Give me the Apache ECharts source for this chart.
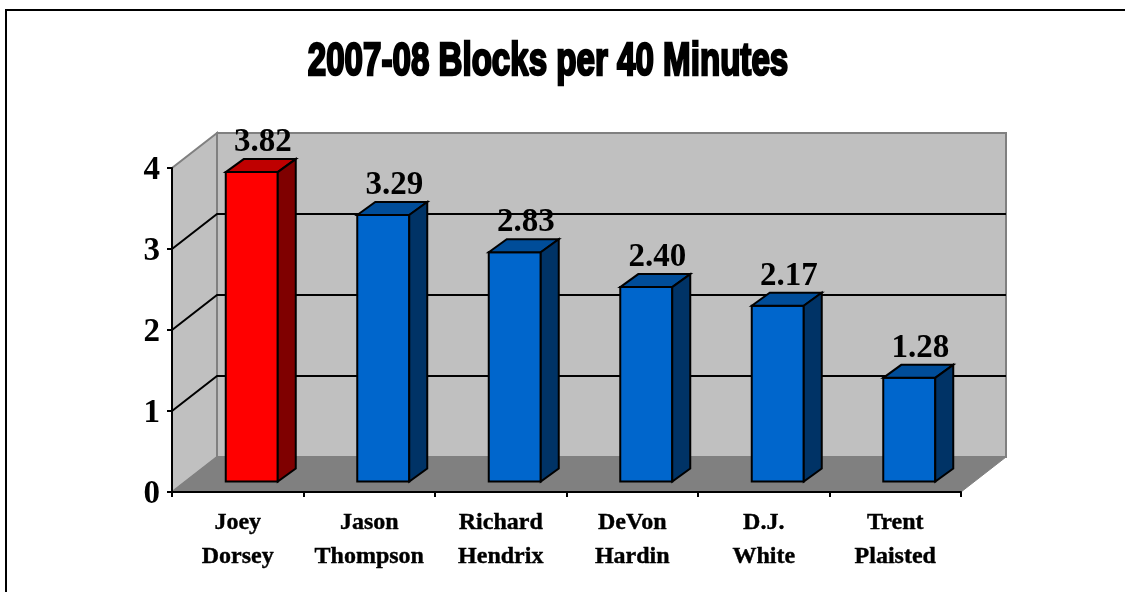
<!DOCTYPE html>
<html>
<head>
<meta charset="utf-8">
<style>html,body{margin:0;padding:0;background:#fff}#main{width:1125px;height:592px}</style>
<script src="https://cdn.jsdelivr.net/npm/echarts@6/dist/echarts.min.js"></script>
</head>
<body>
<div id="main"></div>
<script>
var titleText = '2007-08 Blocks per 40 Minutes';
var categories = ['Joey\nDorsey', 'Jason\nThompson', 'Richard\nHendrix', 'DeVon\nHardin', 'D.J.\nWhite', 'Trent\nPlaisted'];
var values = [3.82, 3.29, 2.83, 2.40, 2.17, 1.28];
var gridValues = [1, 2, 3];
var highlightIndex = 0;

var serif = '"Liberation Serif", "Times New Roman", serif';
var wallDepth = [45, -35];
var barShift = [14, -10.5];
var barDepth = [18, -13];
var barWidth = 52;

var myChart = echarts.init(document.getElementById('main'), null, { renderer: 'canvas' });

function poly(points, fill, stroke, lineWidth) {
    return {
        type: 'polygon',
        shape: { points: points },
        style: { fill: fill, stroke: stroke || null, lineWidth: lineWidth || 0, lineJoin: 'miter' }
    };
}

function renderWalls(params) {
    var c = params.coordSys;
    var dx = wallDepth[0], dy = wallDepth[1];
    var l = c.x, r = c.x + c.width, t = c.y, b = c.y + c.height;
    return {
        type: 'group',
        children: [
            poly([[l, b], [l, t], [l + dx, t + dy], [l + dx, b + dy]], '#c0c0c0', '#808080', 2),
            poly([[l + dx, t + dy], [r + dx, t + dy], [r + dx, b + dy], [l + dx, b + dy]], '#c0c0c0', '#808080', 2),
            poly([[l, b], [l + dx, b + dy], [r + dx, b + dy], [r, b]], '#808080', '#808080', 1)
        ]
    };
}

function renderGrid(params, api) {
    var c = params.coordSys;
    var y = api.coord([0, api.value(1)])[1];
    var l = c.x, r = c.x + c.width;
    return {
        type: 'polyline',
        shape: { points: [[l, y], [l + wallDepth[0], y + wallDepth[1]], [r + wallDepth[0], y + wallDepth[1]]] },
        style: { fill: null, stroke: '#000', lineWidth: 2 }
    };
}

function renderBar(params, api) {
    var top = api.coord([api.value(0), api.value(1)]);
    var base = api.coord([api.value(0), 0]);
    var x0 = top[0] - barWidth / 2 + barShift[0];
    var x1 = x0 + barWidth;
    var yt = top[1] + barShift[1];
    var yb = base[1] + barShift[1];
    var dx = barDepth[0], dy = barDepth[1];
    var hot = params.dataIndex === highlightIndex;
    return {
        type: 'group',
        children: [
            poly([[x0, yb], [x0, yt], [x1, yt], [x1, yb]], hot ? '#ff0000' : '#0066cc', '#000', 2),
            poly([[x0, yt], [x0 + dx, yt + dy], [x1 + dx, yt + dy], [x1, yt]], hot ? '#bf0000' : '#004d99', '#000', 2),
            poly([[x1, yt], [x1 + dx, yt + dy], [x1 + dx, yb + dy], [x1, yb]], hot ? '#7f0000' : '#003366', '#000', 2),
            {
                type: 'text',
                style: {
                    x: x0 + barWidth / 2 + 11,
                    y: yt - 13,
                    text: api.value(1).toFixed(2),
                    fill: '#000',
                    font: 'bold 33px ' + serif,
                    textAlign: 'center',
                    textVerticalAlign: 'bottom'
                }
            }
        ]
    };
}

myChart.setOption({
    animation: false,
    backgroundColor: '#fff',
    graphic: [{
        type: 'polyline',
        shape: { points: [[6, 592], [6, 10], [1125, 10]] },
        style: { fill: null, stroke: '#000', lineWidth: 2 }
    }, {
        // no Impact here, so squeeze the bold sans to the same width
        type: 'text',
        x: 548,
        y: 62,
        scaleX: 0.72,
        scaleY: 1,
        style: {
            text: titleText,
            font: 'bold 46px "Liberation Sans", sans-serif',
            textAlign: 'center',
            textVerticalAlign: 'middle',
            fill: '#000',
            stroke: '#000',
            lineWidth: 2.5
        }
    }],
    grid: { left: 172, right: 164, top: 168, bottom: 100 },
    xAxis: {
        type: 'category',
        data: categories,
        z: 3,
        axisLine: { lineStyle: { color: '#000', width: 2 } },
        axisTick: { show: true, alignWithLabel: false, length: 5, lineStyle: { color: '#000', width: 2 } },
        axisLabel: { color: '#000', fontFamily: serif, fontWeight: 'bold', fontSize: 24, lineHeight: 34, margin: 14, interval: 0, textBorderColor: '#000', textBorderWidth: 0.4 }
    },
    yAxis: {
        type: 'value',
        min: 0,
        max: 4,
        interval: 1,
        z: 3,
        splitLine: { show: false },
        axisLine: { show: true, lineStyle: { color: '#000', width: 2 } },
        axisTick: { show: true, length: 5, lineStyle: { color: '#000', width: 2 } },
        axisLabel: {
            margin: 12,
            formatter: '{v|{value}}',
            rich: { v: { color: '#000', fontFamily: serif, fontWeight: 'bold', fontSize: 33, padding: [5, 0, 0, 0] } }
        }
    },
    series: [
        { type: 'custom', z: 1, silent: true, renderItem: renderWalls, data: [0] },
        {
            type: 'custom',
            z: 1,
            silent: true,
            renderItem: renderGrid,
            data: gridValues.map(function (v) { return [0, v]; })
        },
        {
            type: 'custom',
            z: 2,
            renderItem: renderBar,
            data: values.map(function (v, i) { return [i, v]; })
        }
    ]
});
</script>
</body>
</html>
